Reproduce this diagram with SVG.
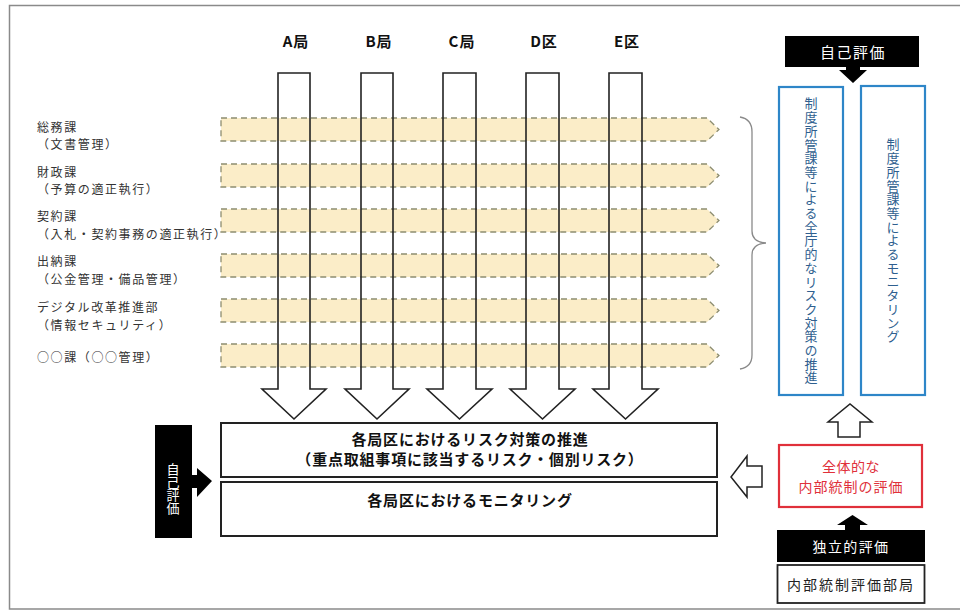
<svg xmlns="http://www.w3.org/2000/svg" width="960" height="613" viewBox="0 0 960 613">
<defs>
<style>
text{font-family:"Noto Sans CJK JP","Noto Sans",sans-serif;}
.lbl{font-size:12px;fill:#333;letter-spacing:1.6px;}
.col{font-size:15px;font-weight:bold;fill:#111;text-anchor:middle;letter-spacing:1px;}
.shaftbg{fill:#fff;stroke:none;}
.shaft{fill:none;stroke:#222;stroke-width:1.6;}
.band{fill:#fbebc2;fill-opacity:0.9;stroke:#8d8d70;stroke-width:1.3;stroke-dasharray:6 4;}
.box{fill:#fff;stroke:#222;stroke-width:2;}
.btxt{font-size:15px;font-weight:bold;fill:#111;text-anchor:middle;letter-spacing:0.8px;}
.blue{fill:#fff;stroke:#2e86c8;stroke-width:2.2;}
.vtxt{font-size:13px;fill:#2f5f8f;writing-mode:vertical-rl;letter-spacing:0.7px;}
.blk{fill:#000;}
.wtxt{fill:#fff;font-size:15px;text-anchor:middle;letter-spacing:1.5px;}
.hollow{fill:#fff;stroke:#222;stroke-width:1.5;}
</style>
</defs>
<rect x="9.5" y="5.5" width="960" height="603.5" fill="#fff" stroke="#8a8a8a" stroke-width="1.5"/>

<g id="column-labels">
<text class="col" x="296" y="47">A局</text>
<text class="col" x="379" y="47">B局</text>
<text class="col" x="462" y="47">C局</text>
<text class="col" x="544" y="47">D区</text>
<text class="col" x="627" y="47">E区</text>
</g>

<g id="column-arrows-bg">
<path class="shaftbg" d="M278,73 H310 V389 H326 L294,419 L262,389 H278 Z"/>
<path class="shaftbg" d="M361,73 H393 V389 H409 L377,419 L345,389 H361 Z"/>
<path class="shaftbg" d="M443,73 H476 V389 H492 L459.5,419 L427,389 H443 Z"/>
<path class="shaftbg" d="M526,73 H559 V389 H575 L542.5,419 L510,389 H526 Z"/>
<path class="shaftbg" d="M609,73 H642 V389 H658 L625.5,419 L593,389 H609 Z"/>
</g>

<g id="bands">
<path class="band" d="M221,118 H707 L719,129.5 L707,141 H221 Z"/>
<path class="band" d="M221,164 H707 L719,175.5 L707,187 H221 Z"/>
<path class="band" d="M221,209 H707 L719,220.5 L707,232 H221 Z"/>
<path class="band" d="M221,254 H707 L719,265.5 L707,277 H221 Z"/>
<path class="band" d="M221,299 H707 L719,310.5 L707,322 H221 Z"/>
<path class="band" d="M221,344 H707 L719,355.5 L707,367 H221 Z"/>
</g>

<g id="column-arrows">
<path class="shaft" d="M278,73 H310 V389 H326 L294,419 L262,389 H278 Z"/>
<path class="shaft" d="M361,73 H393 V389 H409 L377,419 L345,389 H361 Z"/>
<path class="shaft" d="M443,73 H476 V389 H492 L459.5,419 L427,389 H443 Z"/>
<path class="shaft" d="M526,73 H559 V389 H575 L542.5,419 L510,389 H526 Z"/>
<path class="shaft" d="M609,73 H642 V389 H658 L625.5,419 L593,389 H609 Z"/>
</g>

<g id="section-labels">
<text class="lbl" x="37" y="132">総務課</text>
<text class="lbl" x="37" y="149">（文書管理）</text>
<text class="lbl" x="37" y="177">財政課</text>
<text class="lbl" x="37" y="194">（予算の適正執行）</text>
<text class="lbl" x="37" y="221">契約課</text>
<text class="lbl" x="37" y="239">（入札・契約事務の適正執行）</text>
<text class="lbl" x="37" y="266">出納課</text>
<text class="lbl" x="37" y="284">（公金管理・備品管理）</text>
<text class="lbl" x="37" y="312">デジタル改革推進部</text>
<text class="lbl" x="37" y="330">（情報セキュリティ）</text>
<text class="lbl" x="37" y="362">○○課（○○管理）</text>
</g>

<g id="brace">
<path d="M740,117 Q752,119 752,132 V231 Q752,242 766,243 Q752,244 752,255 V355 Q752,367 740,369" fill="none" stroke="#8a8a8a" stroke-width="1.3"/>
</g>

<g id="self-eval-top">
<rect class="blk" x="785" y="36" width="134" height="31"/>
<text class="wtxt" x="853" y="58">自己評価</text>
<path class="blk" d="M846,66 H860 V70 H867 L853,83 L839,70 H846 Z"/>
</g>

<g id="blue-box-1">
<rect class="blue" x="779" y="87" width="64" height="308"/>
<text class="vtxt" x="811" y="97">制度所管課等による全庁的なリスク対策の推進</text>
</g>

<g id="blue-box-2">
<rect class="blue" x="861" y="86" width="64" height="309"/>
<text class="vtxt" x="893" y="138">制度所管課等によるモニタリング</text>
</g>

<g id="box-risk">
<rect class="box" x="221" y="423" width="496" height="54"/>
<text class="btxt" x="470" y="445">各局区におけるリスク対策の推進</text>
<text class="btxt" x="470" y="465">（重点取組事項に該当するリスク・個別リスク）</text>
</g>

<g id="box-monitor">
<rect class="box" x="221" y="482" width="496" height="54"/>
<text class="btxt" x="470" y="506">各局区におけるモニタリング</text>
</g>

<g id="self-eval-left">
<rect class="blk" x="155" y="425" width="37" height="113"/>
<text x="173" y="463" style="writing-mode:vertical-rl;font-size:13px;fill:#fff;">自己評価</text>
<path class="blk" d="M191,475 H197 V468 L212,481 L197,497 V488 H191 Z"/>
</g>

<g id="overall-eval">
<rect x="779" y="445" width="143" height="62" fill="#fff" stroke="#e0303a" stroke-width="2.2"/>
<text x="851" y="472" style="font-size:14px;fill:#e0303a;text-anchor:middle;letter-spacing:0.5px;">全体的な</text>
<text x="851" y="492" style="font-size:14px;fill:#e0303a;text-anchor:middle;letter-spacing:1px;">内部統制の評価</text>
</g>

<g id="connectors">
<path class="hollow" d="M838,437 V422 H828 L850,404 L872,422 H860 V437 Z"/>
<path class="hollow" d="M762,466 H747 V456 L731,477 L747,497 V487 H762 Z"/>
<path class="blk" d="M845,531 V525 H837 L852.5,515 L868,525 H860 V531 Z"/>
</g>

<g id="independent-eval">
<rect class="blk" x="777" y="530" width="148" height="32"/>
<text x="851" y="552" style="font-size:14px;fill:#fff;text-anchor:middle;letter-spacing:1.4px;">独立的評価</text>
</g>

<g id="eval-dept">
<rect x="777.5" y="565" width="147" height="38" fill="#fff" stroke="#222" stroke-width="1.8"/>
<text x="851" y="590" style="font-size:14px;fill:#222;text-anchor:middle;letter-spacing:2px;">内部統制評価部局</text>
</g>
</svg>
